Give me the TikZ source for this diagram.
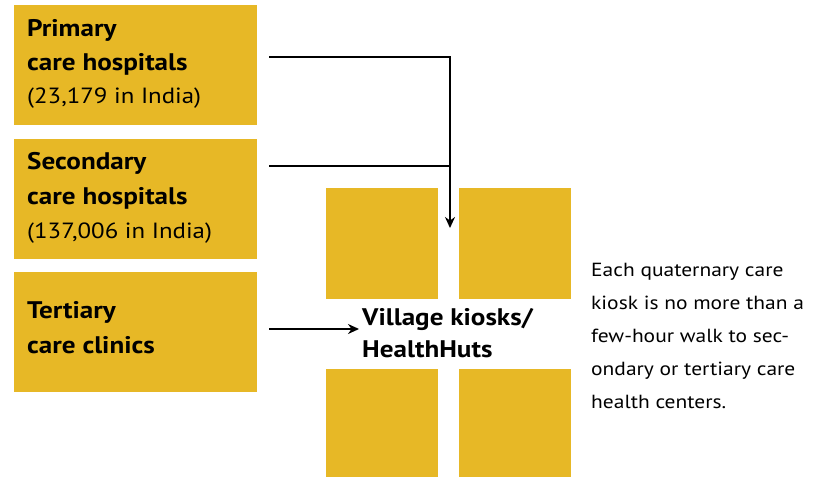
\documentclass[tikz,border=0pt]{standalone}
\usepackage{fontspec}
\setmainfont[FakeStretch=1.13]{PT Sans}
\usetikzlibrary{arrows.meta}
\definecolor{gold}{HTML}{E7B826}
\tikzset{
  box/.style={fill=gold, draw=none, inner sep=0pt, anchor=north west},
  big/.style={anchor=base west, inner sep=0pt, font=\fontsize{24}{28}\selectfont\bfseries},
  small/.style={anchor=base west, inner sep=0pt, font=\fontsize{22}{26}\selectfont},
  desc/.style={anchor=base west, inner sep=0pt, font=\fontsize{19}{23}\selectfont},
  conn/.style={line width=2pt, -{Stealth[length=11pt,width=10pt]}},
  plain/.style={line width=2pt}
}
\begin{document}
\begin{tikzpicture}[x=1pt,y=-1pt]
\useasboundingbox (0,0) rectangle (819,477);
% left boxes
\node[box, minimum width=243pt, minimum height=120pt] (pbox) at (14,5) {};
\node[box, minimum width=243pt, minimum height=120pt] (sbox) at (14,139) {};
\node[box, minimum width=243pt, minimum height=120pt] (tbox) at (14,272) {};
% squares
\node[box, minimum width=112pt, minimum height=111pt] (sq1) at (326,188) {};
\node[box, minimum width=112pt, minimum height=111pt] (sq2) at (459,188) {};
\node[box, minimum width=112pt, minimum height=108pt] (sq3) at (326,369) {};
\node[box, minimum width=112pt, minimum height=108pt] (sq4) at (459,369) {};
% box texts
\node[big] (p1) at (27,36) {Primary};
\node[big] (p2) at (27,70) {care hospitals};
\node[small] (p3) at (27,103) {(23,179 in India)};
\node[big] (s1) at (27,169) {Secondary};
\node[big] (s2) at (27,204) {care hospitals};
\node[small] (s3) at (27,238) {(137,006 in India)};
\node[big] (t1) at (27,318) {Tertiary};
\node[big] (t2) at (27,353) {care clinics};
% village
\node[big] (v1) at (362,325) {Village kiosks/};
\node[big] (v2) at (362,357) {HealthHuts};
% description
\node[desc] (d1) at (591,276) {Each quaternary care};
\node[desc] (d2) at (591,309) {kiosk is no more than a};
\node[desc] (d3) at (591,342) {few-hour walk to sec-};
\node[desc] (d4) at (591,375) {ondary or tertiary care};
\node[desc] (d5) at (591,408) {health centers.};
% connectors
\coordinate (pa) at (269,57);
\coordinate (sa) at (269,166);
\coordinate (corner) at (450,57);
\coordinate (join) at (450,166);
\coordinate (tip) at (450,228);
\coordinate (ta) at (269,329);
\coordinate (tb) at (359,329);
\draw[plain] (pa) -- (corner) -- (join);
\draw[plain] (sa) -- (join);
\draw[conn] (join) -- (tip);
\draw[conn] (ta) -- (tb);
\end{tikzpicture}
\end{document}
